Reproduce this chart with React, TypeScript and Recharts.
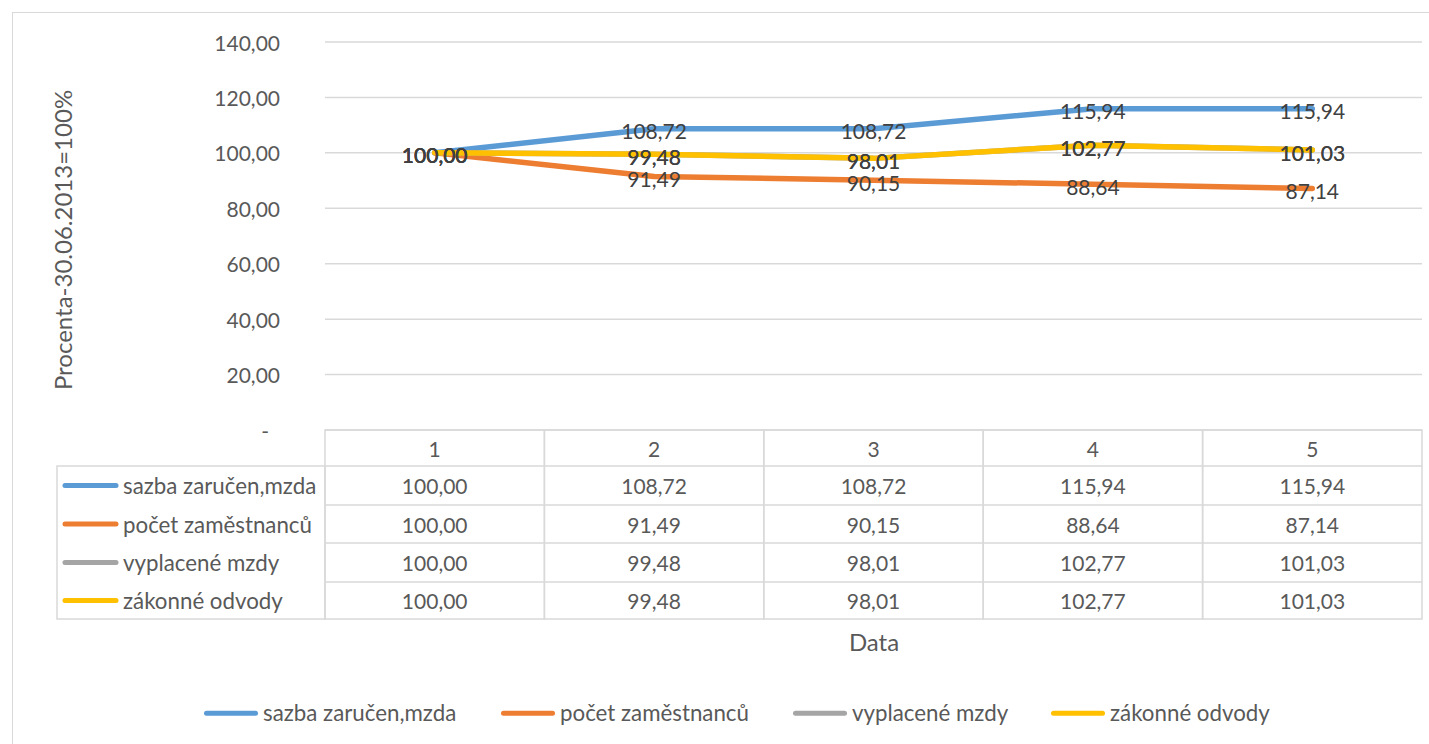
import { LineChart, Line, XAxis, YAxis, CartesianGrid, LabelList } from "recharts";

const categories = ["1", "2", "3", "4", "5"];
const sazba = [100, 108.72, 108.72, 115.94, 115.94];
const pocet = [100, 91.49, 90.15, 88.64, 87.14];
const vyplacene = [100, 99.48, 98.01, 102.77, 101.03];
const zakonne = [100, 99.48, 98.01, 102.77, 101.03];
const yTicks = [0, 20, 40, 60, 80, 100, 120, 140];

const series = [
  { key: "sazba", name: "sazba zaručen,mzda", color: "#5B9BD5", values: sazba },
  { key: "pocet", name: "počet zaměstnanců", color: "#ED7D31", values: pocet },
  { key: "vyplacene", name: "vyplacené mzdy", color: "#A5A5A5", values: vyplacene },
  { key: "zakonne", name: "zákonné odvody", color: "#FFC000", values: zakonne },
];

const data = categories.map((cat, i) => {
  const row: Record<string, string | number> = { cat };
  series.forEach((s) => (row[s.key] = s.values[i]));
  return row;
});

const W = 1429;
const H = 744;
const PLOT_LEFT = 325;
const PLOT_RIGHT = 1422;
const PLOT_TOP = 42;
const PLOT_BOTTOM = 430;
const Y_AXIS_W = 60;
const X_AXIS_H = 200;
const COL_W = (PLOT_RIGHT - PLOT_LEFT) / categories.length;
const LEGEND_COL_W = 268;
// row edges of the data table, relative to the top of the x axis
const ROW_EDGES = [0, 36, 75, 113, 152, 189];
// left edge of each bottom legend entry
const LEGEND_X = [204, 501, 793, 1051];

const FONT = "Lato, 'Open Sans', sans-serif";
const FS = 21; // numbers
const FS_NAME = 22.3; // series names
const FS_TITLE = 24; // axis titles
const TEXT = "#595959";
const BORDER = "#d9d9d9";

const fmt = (v: number) => v.toFixed(2).replace(".", ",");

function YTick(props: any) {
  const { x, y, payload } = props;
  const zero = payload.value === 0;
  return (
    <text
      x={zero ? x - 11 : x}
      y={y}
      textAnchor="end"
      dominantBaseline="central"
      fill={TEXT}
      fontSize={FS}
      fontFamily={FONT}
    >
      {zero ? "-" : fmt(payload.value)}
    </text>
  );
}

function TableColumn(props: any) {
  const { x, y, payload } = props;
  const i = categories.indexOf(String(payload.value));
  const left = x - COL_W / 2;
  const bottom = ROW_EDGES[ROW_EDGES.length - 1];
  const rowMid = (r: number) => y + (ROW_EDGES[r] + ROW_EDGES[r + 1]) / 2;
  const legLeft = left - LEGEND_COL_W;
  return (
    <g fontFamily={FONT} fontSize={FS}>
      <rect x={left} y={y} width={COL_W} height={bottom} fill="none" stroke={BORDER} strokeWidth={1.5} />
      {ROW_EDGES.slice(1, -1).map((e) => (
        <line key={e} x1={left} x2={left + COL_W} y1={y + e} y2={y + e} stroke={BORDER} strokeWidth={1.5} />
      ))}
      <text x={x} y={rowMid(0)} textAnchor="middle" dominantBaseline="central" fill={TEXT}>
        {payload.value}
      </text>
      {series.map((s, r) => (
        <text key={s.key} x={x} y={rowMid(r + 1)} textAnchor="middle" dominantBaseline="central" fill={TEXT}>
          {fmt(s.values[i])}
        </text>
      ))}
      {i === 0 && (
        <g>
          <rect
            x={legLeft}
            y={y + ROW_EDGES[1]}
            width={LEGEND_COL_W}
            height={bottom - ROW_EDGES[1]}
            fill="none"
            stroke={BORDER}
            strokeWidth={1.5}
          />
          {series.map((s, r) => (
            <g key={s.key}>
              <line
                x1={legLeft + 8}
                x2={legLeft + 59}
                y1={rowMid(r + 1)}
                y2={rowMid(r + 1)}
                stroke={s.color}
                strokeWidth={5}
                strokeLinecap="round"
              />
              <text
                x={legLeft + 66}
                y={rowMid(r + 1)}
                dominantBaseline="central"
                fill={TEXT}
                fontSize={FS_NAME}
              >
                {s.name}
              </text>
            </g>
          ))}
        </g>
      )}
    </g>
  );
}

const renderLabel = (props: any) => (
  <text
    x={props.x}
    y={props.y}
    dy={2}
    textAnchor="middle"
    dominantBaseline="central"
    fill="#404040"
    fontSize={FS}
    fontFamily={FONT}
  >
    {fmt(Number(props.value))}
  </text>
);

export default function App() {
  return (
    <div
      style={{
        position: "absolute",
        left: 0,
        top: 0,
        width: W,
        height: H,
        background: "#fff",
        overflow: "hidden",
        fontFamily: FONT,
        color: TEXT,
      }}
    >
      <div
        style={{
          position: "absolute",
          left: 12,
          top: 12,
          width: W,
          height: H,
          border: `1.5px solid ${BORDER}`,
        }}
      />
      <div style={{ position: "absolute", left: 0, top: 0 }}>
        <LineChart
          width={W}
          height={H}
          data={data}
          margin={{
            top: PLOT_TOP,
            right: W - PLOT_RIGHT,
            left: PLOT_LEFT - Y_AXIS_W,
            bottom: H - PLOT_BOTTOM - X_AXIS_H,
          }}
        >
          <CartesianGrid vertical={false} stroke={BORDER} strokeWidth={1.5} />
          <XAxis
            dataKey="cat"
            height={X_AXIS_H}
            padding={{ left: COL_W / 2, right: COL_W / 2 }}
            axisLine={false}
            tickLine={false}
            tickSize={0}
            tickMargin={0}
            interval={0}
            tick={<TableColumn />}
          />
          <YAxis
            width={Y_AXIS_W}
            domain={[0, 140]}
            ticks={yTicks}
            axisLine={false}
            tickLine={false}
            tickSize={0}
            tickMargin={45}
            tick={<YTick />}
            interval={0}
          />
          {series.map((s) => (
            <Line
              key={s.key}
              dataKey={s.key}
              name={s.name}
              type="linear"
              stroke={s.color}
              strokeWidth={5.5}
              strokeLinecap="round"
              strokeLinejoin="round"
              dot={false}
              activeDot={false}
              isAnimationActive={false}
            >
              <LabelList dataKey={s.key} content={renderLabel} />
            </Line>
          ))}
        </LineChart>
      </div>
      <div
        style={{
          position: "absolute",
          left: 63,
          top: 240,
          transform: "translate(-50%, -50%) rotate(-90deg)",
          whiteSpace: "nowrap",
          fontSize: FS_TITLE,
          lineHeight: 1,
        }}
      >
        Procenta-30.06.2013=100%
      </div>
      <div
        style={{
          position: "absolute",
          left: 874,
          top: 642,
          transform: "translate(-50%, -50%)",
          fontSize: FS_TITLE,
          lineHeight: 1,
        }}
      >
        Data
      </div>
      {series.map((s, k) => (
        <div
          key={s.key}
          style={{
            position: "absolute",
            left: LEGEND_X[k],
            top: 713,
            transform: "translateY(-50%)",
            display: "flex",
            alignItems: "center",
            fontSize: FS_NAME,
            lineHeight: 1,
            whiteSpace: "nowrap",
          }}
        >
          <span
            style={{
              display: "inline-block",
              width: 54,
              height: 5,
              borderRadius: 3,
              background: s.color,
              marginRight: 5,
            }}
          />
          <span>{s.name}</span>
        </div>
      ))}
    </div>
  );
}
